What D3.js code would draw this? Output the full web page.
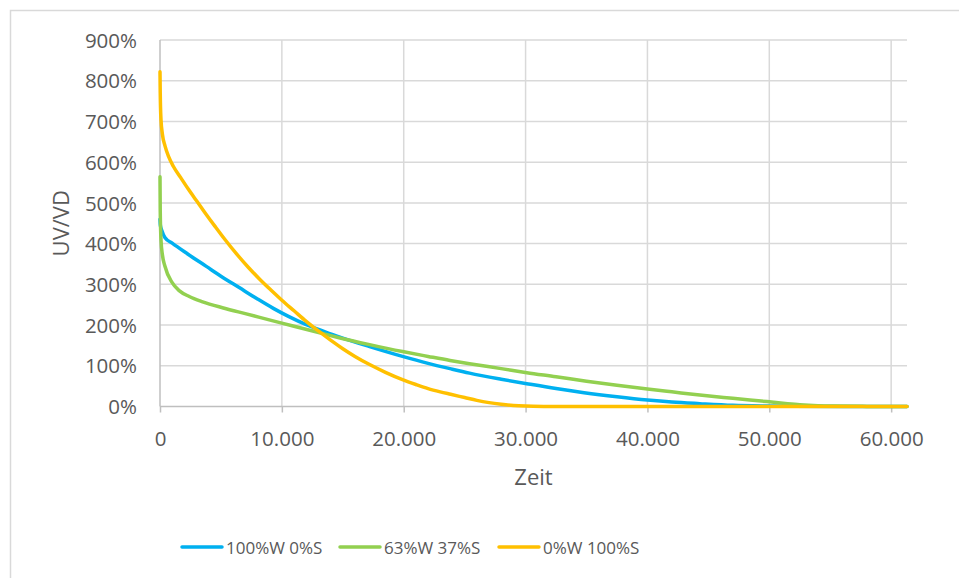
<!DOCTYPE html>
<html>
<head>
<meta charset="utf-8">
<script src="https://cdn.jsdelivr.net/npm/d3@7"></script>
<style>
  html, body { margin: 0; padding: 0; background: #fff; }
  svg { display: block; }
  text { font-family: "Open Sans", sans-serif; fill: #595959; }
</style>
</head>
<body>
<svg id="chart" width="959" height="578"></svg>
<script>
// ---- data ----
const seriesNames = ["100%W 0%S", "63%W 37%S", "0%W 100%S"];
const seriesColors = ["#00B0F0", "#92D050", "#FFC000"];

const blueX = [0, 30, 150, 400, 1000, 2300, 3800, 5000, 6500, 8000, 9300, 10500, 12000, 13500, 14700, 17200, 19900, 22000, 23800, 25400, 28000, 30100, 32500, 34800, 37500, 40000, 42000, 44300, 47000, 49800, 52000, 56000, 61300];
const blueY = [4.60, 4.45, 4.32, 4.15, 4.01, 3.74, 3.44, 3.20, 2.92, 2.64, 2.41, 2.22, 2.01, 1.84, 1.71, 1.47, 1.23, 1.06, 0.93, 0.82, 0.67, 0.56, 0.44, 0.34, 0.24, 0.16, 0.11, 0.07, 0.03, 0.012, 0.004, 0, 0];

const greenX = [0, 20, 80, 200, 400, 1000, 1600, 2400, 3500, 5200, 7000, 9200, 11000, 13100, 14700, 17200, 19900, 22000, 23800, 25400, 28000, 30100, 32500, 35000, 37500, 40000, 42000, 44300, 47000, 49800, 51500, 52500, 54000, 55300, 58000, 61300];
const greenY = [5.64, 4.80, 4.10, 3.72, 3.45, 3.04, 2.84, 2.70, 2.57, 2.42, 2.28, 2.11, 1.97, 1.81, 1.69, 1.52, 1.35, 1.23, 1.13, 1.05, 0.93, 0.83, 0.73, 0.62, 0.52, 0.43, 0.36, 0.28, 0.20, 0.12, 0.07, 0.045, 0.02, 0.01, 0.003, 0];

const orangeX = [0, 20, 80, 200, 410, 700, 1090, 1700, 2320, 3000, 3690, 4500, 5330, 6300, 7240, 8200, 9100, 10000, 11000, 12000, 13100, 14000, 15000, 16000, 17200, 18500, 19900, 21000, 22000, 23000, 23850, 25000, 26000, 27000, 28000, 29000, 30000, 31500, 33000, 61300];
const orangeY = [8.22, 7.70, 7.05, 6.68, 6.40, 6.14, 5.90, 5.62, 5.34, 5.05, 4.76, 4.43, 4.10, 3.74, 3.42, 3.12, 2.86, 2.61, 2.35, 2.09, 1.83, 1.63, 1.42, 1.23, 1.03, 0.84, 0.66, 0.54, 0.44, 0.36, 0.30, 0.22, 0.15, 0.095, 0.055, 0.025, 0.01, 0.002, 0, 0];

const xTicks = [0, 10000, 20000, 30000, 40000, 50000, 60000];
const xTickLabels = ["0", "10.000", "20.000", "30.000", "40.000", "50.000", "60.000"];
const yTicks = [0, 1, 2, 3, 4, 5, 6, 7, 8, 9];
const yTickLabels = ["0%", "100%", "200%", "300%", "400%", "500%", "600%", "700%", "800%", "900%"];
const xTitle = "Zeit";
const yTitle = "UV/VD";

// ---- layout ----
const svg = d3.select("#chart");
const L = 160, R = 907, T = 40, B = 406.5;
const x = d3.scaleLinear().domain([0, 61300]).range([L, R]);
const y = d3.scaleLinear().domain([0, 9]).range([B, T]);

// outer chart border
svg.append("rect").attr("x", 10.5).attr("y", 10.5).attr("width", 980).attr("height", 600)
  .attr("fill", "none").attr("stroke", "#d9d9d9").attr("stroke-width", 1.5);

// horizontal gridlines
svg.append("g").selectAll("line").data(yTicks.filter(d => d > 0)).join("line")
  .attr("x1", L).attr("x2", R).attr("y1", d => y(d)).attr("y2", d => y(d))
  .attr("stroke", "#d9d9d9").attr("stroke-width", 1.5);
// vertical gridlines
svg.append("g").selectAll("line").data(xTicks.filter(d => d > 0)).join("line")
  .attr("x1", d => x(d)).attr("x2", d => x(d)).attr("y1", T).attr("y2", B)
  .attr("stroke", "#d9d9d9").attr("stroke-width", 1.5);

// x axis
const xAxis = d3.axisBottom(x).tickValues(xTicks).tickSize(6).tickFormat((d, i) => xTickLabels[i]);
const gx = svg.append("g").attr("transform", `translate(0,${B})`).call(xAxis);
gx.select(".domain").attr("stroke", "#bfbfbf").attr("stroke-width", 1.5).attr("d", `M${L},0H${R}`);
gx.selectAll(".tick line").attr("stroke", "#bfbfbf").attr("stroke-width", 1.5);
gx.selectAll(".tick text").attr("y", 0).attr("dy", 0).attr("transform", "translate(0,39)")
  .style("font-size", "20.5px").attr("fill", "#595959").attr("font-family", "Open Sans");

// y axis
const yAxis = d3.axisLeft(y).tickValues(yTicks).tickSize(0).tickFormat((d, i) => yTickLabels[i]);
const gy = svg.append("g").attr("transform", `translate(${L},0)`).call(yAxis);
gy.select(".domain").attr("stroke", "#bfbfbf").attr("stroke-width", 1.5).attr("d", `M0,${T}V${B}`);
gy.selectAll(".tick text").attr("x", -23).attr("dy", "0.35em")
  .style("font-size", "20.5px").attr("fill", "#595959").attr("font-family", "Open Sans");

// axis titles
svg.append("text").attr("x", (L + R) / 2).attr("y", 485).attr("text-anchor", "middle")
  .style("font-size", "22px").text(xTitle);
svg.append("text").attr("transform", `translate(69,${(T + B) / 2}) rotate(-90)`).attr("text-anchor", "middle")
  .style("font-size", "22px").text(yTitle);

// series lines
const seriesData = [
  blueX.map((d, i) => [d, blueY[i]]),
  greenX.map((d, i) => [d, greenY[i]]),
  orangeX.map((d, i) => [d, orangeY[i]])
];
const line = d3.line().x(d => x(d[0])).y(d => y(d[1])).curve(d3.curveMonotoneX);
svg.append("g").selectAll("path").data(seriesData).join("path")
  .attr("d", line).attr("fill", "none")
  .attr("stroke", (d, i) => seriesColors[i]).attr("stroke-width", 3.5)
  .attr("stroke-linejoin", "round").attr("stroke-linecap", "round");

// legend
const legendX = [182, 340, 499];
const lg = svg.append("g").selectAll("g").data(seriesNames).join("g")
  .attr("transform", (d, i) => `translate(${legendX[i]},547)`);
lg.append("line").attr("x1", 0).attr("x2", 40).attr("y1", 0).attr("y2", 0)
  .attr("stroke", (d, i) => seriesColors[i]).attr("stroke-width", 3.5).attr("stroke-linecap", "round");
lg.append("text").attr("x", 44).attr("y", 7).style("font-size", "17px").text(d => d);
</script>
</body>
</html>
